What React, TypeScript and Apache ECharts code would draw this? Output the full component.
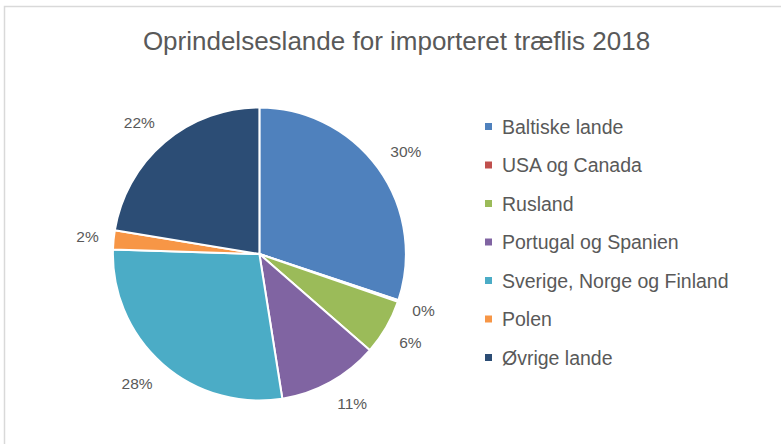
import React, { useEffect, useRef } from "react";
import * as echarts from "echarts";

const categories = [
  "Baltiske lande",
  "USA og Canada",
  "Rusland",
  "Portugal og Spanien",
  "Sverige, Norge og Finland",
  "Polen",
  "Øvrige lande",
];
const shares = [30.1, 0.2, 6.1, 11.1, 28.0, 2.1, 22.4];
const colors = ["#4F81BD", "#C0504D", "#9BBB59", "#8064A2", "#4BACC6", "#F79646", "#2C4D75"];
const titleText = "Oprindelseslande for importeret træflis 2018";

const CX = 259.4;
const CY = 254;
const R = 146.5;
const GAP = 15;

export default function App() {
  const ref = useRef<HTMLDivElement>(null);
  useEffect(() => {
    if (!ref.current) return;
    const chart = echarts.init(ref.current, undefined, { renderer: "svg" });
    const total = shares.reduce((a, b) => a + b, 0);
    const mids: number[] = [];
    let acc = 0;
    for (const v of shares) {
      mids.push(((acc + v / 2) / total) * 2 * Math.PI);
      acc += v;
    }
    const clamp = (v: number) => Math.max(-1, Math.min(1, v * 2));
    const font = "Liberation Sans, Arial, sans-serif";
    chart.setOption({
      animation: false,
      backgroundColor: "#ffffff",
      graphic: [
        {
          type: "rect",
          shape: { x: 4.5, y: 6.5, width: 820, height: 500 },
          style: { fill: "none", stroke: "#d9d9d9", lineWidth: 1.5 },
          silent: true,
        },
      ],
      title: {
        text: titleText,
        left: 396.5,
        top: 28,
        padding: 0,
        textAlign: "center",
        textStyle: { fontFamily: font, fontSize: 26, fontWeight: "normal", color: "#595959" },
      },
      legend: {
        orient: "vertical",
        left: 483,
        top: 116,
        padding: 0,
        icon: "rect",
        itemWidth: 9,
        itemHeight: 9,
        itemGap: 17.5,
        data: categories,
        textStyle: { fontFamily: font, fontSize: 19.5, color: "#595959", lineHeight: 21, padding: [0, 0, 0, 4] },
      },
      series: [
        {
          type: "pie",
          center: [CX, CY],
          radius: R,
          startAngle: 90,
          clockwise: true,
          avoidLabelOverlap: false,
          itemStyle: { borderColor: "#ffffff", borderWidth: 2 },
          label: {
            show: true,
            position: "outside",
            fontFamily: font,
            fontSize: 15.5,
            lineHeight: 16,
            color: "#595959",
            formatter: (p: any) => Math.round(p.percent) + "%",
          },
          labelLine: { show: false },
          labelLayout: (p: any) => {
            const a = mids[p.dataIndex];
            const s = Math.sin(a);
            const c = -Math.cos(a);
            const w = p.labelRect.width;
            const h = p.labelRect.height;
            return {
              x: CX + (R + GAP) * s + clamp(s) * w / 2,
              y: CY + (R + GAP) * c + clamp(c) * h / 2,
              align: "center",
              verticalAlign: "middle",
            };
          },
          data: categories.map((name, i) => ({
            name,
            value: shares[i],
            itemStyle: { color: colors[i] },
          })),
        },
      ],
    });
    return () => chart.dispose();
  }, []);
  return (
    <div
      ref={ref}
      style={{ position: "fixed", left: 0, top: 0, width: 781, height: 444 }}
    />
  );
}
